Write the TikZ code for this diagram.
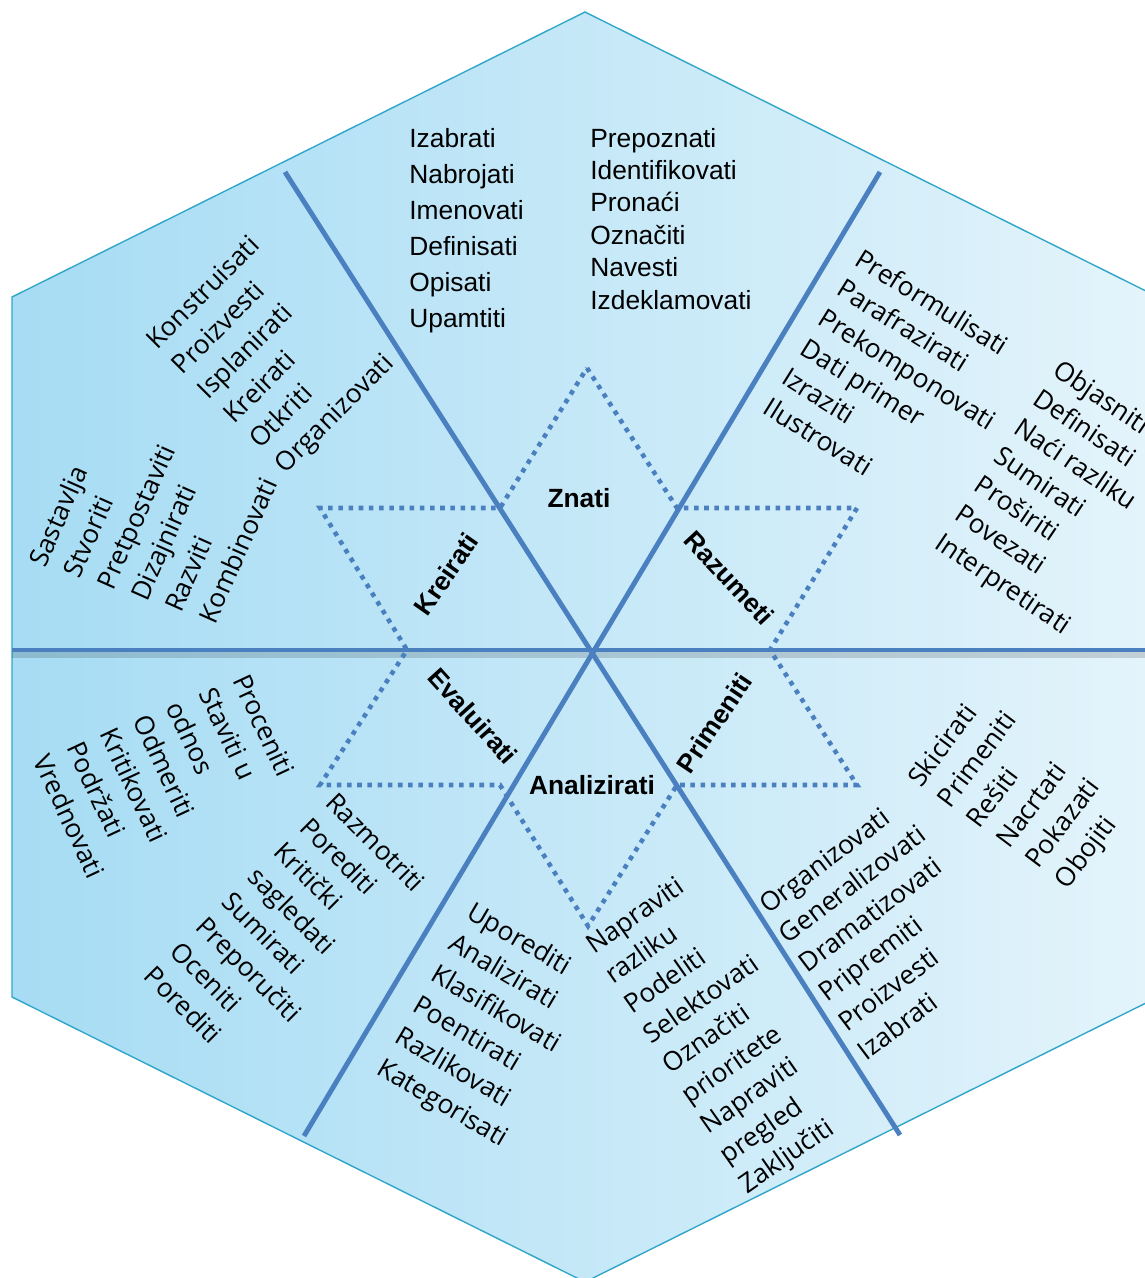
\documentclass[tikz,border=0pt]{standalone}
\usepackage{fontspec}
\setmainfont{Open Sans}
\newfontfamily\arialfont{Liberation Sans}
\usetikzlibrary{calc}
\definecolor{hexleft}{RGB}{166,220,244}
\definecolor{hexright}{RGB}{228,244,251}
\definecolor{hexedge}{RGB}{50,166,200}
\definecolor{axisblue}{RGB}{74,128,192}

\begin{document}
\begin{tikzpicture}[x=0.02cm,y=-0.02cm,
  verb/.style={inner sep=0pt,anchor=base west,font=\fontsize{15}{18}\selectfont},
  topverb/.style={verb,font=\arialfont\fontsize{15}{18}\selectfont},
  level/.style={inner sep=0pt,font=\arialfont\bfseries\fontsize{15}{18}\selectfont},
  axis/.style={axisblue,line width=2.8pt},
  starline/.style={axisblue,line width=2.6pt,dash pattern=on 2.6pt off 3.2pt}]
\useasboundingbox (0,0) rectangle (1145,1278);
\clip (0,0) rectangle (1145,1278);

% hexagon
\shadedraw[left color=hexleft,right color=hexright,draw=hexedge,line width=0.8pt]
  (585,12) -- (1158,297) -- (1158,997) -- (585,1282) -- (12,997) -- (12,297) -- cycle;

% axes
\coordinate (west) at (12,650);
\coordinate (east) at (1160,650);
\coordinate (d1a) at (285,172);
\coordinate (d1b) at (900,1135);
\coordinate (d2a) at (880,172);
\coordinate (d2b) at (304,1136);
\draw[black,opacity=0.15,line width=3pt] ($(west)+(0,5)$) -- ($(east)+(0,5)$);
\draw[axis] (west) -- (east);
\draw[axis] (d1a) -- (d1b);
\draw[axis] (d2a) -- (d2b);

% dotted star
\coordinate (pZ) at (587,368);
\coordinate (pR) at (857,508);
\coordinate (pP) at (857,785);
\coordinate (pA) at (588,926);
\coordinate (pE) at (320,785);
\coordinate (pK) at (320,508);
\coordinate (v1) at (500,508);
\coordinate (v2) at (677,508);
\coordinate (v3) at (770,650);
\coordinate (v4) at (677,785);
\coordinate (v5) at (500,785);
\coordinate (v6) at (407,650);
\draw[starline] (pZ) -- (v2) -- (pR) -- (v3) -- (pP) -- (v4) -- (pA) -- (v5) -- (pE) -- (v6) -- (pK) -- (v1) -- cycle;

% levels
\node[level] (znati) at (579,498) {Znati};
\node[level,rotate=55] (kreirati) at (446,574) {Kreirati};
\node[level,rotate=-47] (razumeti) at (729,578) {Razumeti};
\node[level,rotate=-48] (evaluirati) at (473,716) {Evaluirati};
\node[level,rotate=56] (primeniti) at (714,723) {Primeniti};
\node[level] (analizirati) at (592,785) {Analizirati};

% verbs
\foreach \w [count=\i from 0] in {Izabrati,Nabrojati,Imenovati,Definisati,Opisati,Upamtiti}
  \node[topverb] (zn\i) at ($(409,147)+\i*(0,36)$) {\w};
\foreach \w [count=\i from 0] in {Prepoznati,Identifikovati,Pronaći,Označiti,Navesti,Izdeklamovati}
  \node[topverb] (zm\i) at ($(590,147)+\i*(0,32.4)$) {\w};
\foreach \w [count=\i from 0] in {Konstruisati,Proizvesti,Isplanirati,Kreirati,Otkriti,Organizovati}
  \node[verb,rotate=45] (kr\i) at ($(157,351)+\i*(25.7,24.7)$) {\w};
\foreach \w [count=\i from 0] in {Sastavlja,Stvoriti,Pretpostaviti,Dizajnirati,Razviti,Kombinovati}
  \node[verb,rotate=66] (ks\i) at ($(45,569)+\i*(34,11.3)$) {\w};
\foreach \w [count=\i from 0] in {Preformulisati,Parafrazirati,Prekomponovati,Dati primer,Izraziti,Ilustrovati}
  \node[verb,rotate=-32] (ra\i) at ($(853,264)+\i*(-18.3,29.7)$) {\w};
\foreach \w [count=\i from 0] in {Objasniti,Definisati,Naći razliku,Sumirati,Proširiti,Povezati,Interpretirati}
  \node[verb,rotate=-34] (rb\i) at ($(1051,374)+\i*(-19.6,28.9)$) {\w};
\foreach \w [count=\i from 0] in {Proceniti,Staviti u,odnos,Odmeriti,Kritikovati,Podržati,Vrednovati}
  \node[verb,rotate=-65] (ea\i) at ($(232,680)+\i*(-33.2,13.4)$) {\w};
\foreach \w [count=\i from 0] in {Razmotriti,Porediti,Kritički,sagledati,Sumirati,Preporučiti,Oceniti,Porediti}
  \node[verb,rotate=-45] (eb\i) at ($(324,804)+\i*(-25.9,24.8)$) {\w};
\foreach \w [count=\i from 0] in {Uporediti,Analizirati,Klasifikovati,Poentirati,Razlikovati,Kategorisati}
  \node[verb,rotate=-30.5] (aa\i) at ($(465,917)+\i*(-18,31.2)$) {\w};
\foreach \w [count=\i from 0] in {Napraviti,razliku,Podeliti,Selektovati,Označiti,prioritete,Napraviti,pregled,Zaključiti}
  \node[verb,rotate=35] (ab\i) at ($(594,955)+\i*(19.1,29.96)$) {\w};
\foreach \w [count=\i from 0] in {Organizovati,Generalizovati,Dramatizovati,Pripremiti,Proizvesti,Izabrati}
  \node[verb,rotate=37] (pa\i) at ($(768,915)+\i*(19.7,29.3)$) {\w};
\foreach \w [count=\i from 0] in {Skicirati,Primeniti,Rešiti,Nacrtati,Pokazati,Obojiti}
  \node[verb,rotate=53] (pb\i) at ($(921,789)+\i*(29.3,20.3)$) {\w};
\end{tikzpicture}
\end{document}
